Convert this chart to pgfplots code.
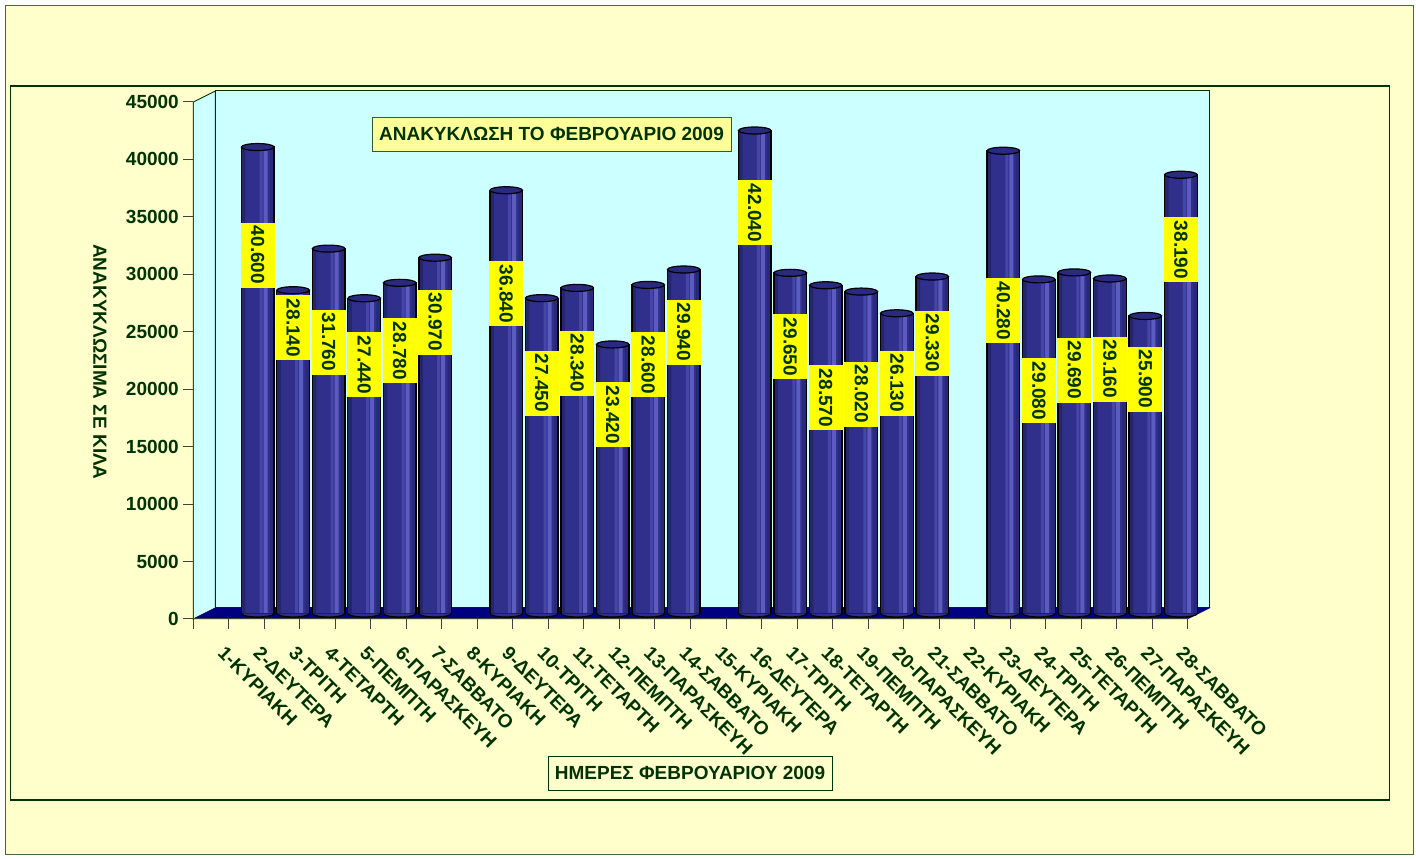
\documentclass[border=0pt]{standalone}
\usepackage{fontspec}
\setmainfont{Liberation Sans}
\usepackage{pgfplots}
\usepackage{pgfplotstable}
\pgfplotsset{compat=1.18}
\definecolor{bgy}{HTML}{FFFFCC}
\definecolor{wallc}{HTML}{CCFFFF}
\definecolor{floorc}{HTML}{000080}
\definecolor{dkgreen}{HTML}{003300}
\definecolor{frameo}{HTML}{3F6A3F}
\definecolor{titley}{HTML}{FFFF99}
\definecolor{laby}{HTML}{FFFF00}
\definecolor{axgray}{HTML}{404040}
\definecolor{barD}{HTML}{25256C}
\definecolor{barD2}{HTML}{29297A}
\definecolor{barM}{HTML}{30308C}
\definecolor{barL}{HTML}{4646A8}
\definecolor{barL2}{HTML}{5C5CC0}
\definecolor{barT}{HTML}{2A2A80}
\pgfdeclareplotmark{cyltop}{\pgfpathellipse{\pgfpointorigin}{\pgfqpoint{16.3pt}{0pt}}{\pgfqpoint{0pt}{3.5pt}}\pgfusepathqfillstroke}
\pgfdeclareplotmark{cylbot}{%
  \pgfpathmoveto{\pgfqpoint{-16.3pt}{0pt}}\pgfpatharc{180}{360}{16.3pt and 3.5pt}\pgfpathclose\pgfusepathqfill
  \pgfpathmoveto{\pgfqpoint{-16.3pt}{0pt}}\pgfpatharc{180}{360}{16.3pt and 3.5pt}\pgfusepathqstroke}
\newcommand\ff{\fontsize{19}{22}\selectfont\bfseries}
\pgfplotstableread{
x b y ly txt
2 0 40600 31200 40.600
3 0 28140 24850 28.140
4 0 31760 23630 31.760
5 0 27440 21630 27.440
6 0 28780 22850 28.780
7 0 30970 25370 30.970
9 0 36840 27810 36.840
10 0 27450 20060 27.450
11 0 28340 21800 28.340
12 0 23420 17280 23.420
13 0 28600 21630 28.600
14 0 29940 24500 29.940
16 0 42040 34860 42.040
17 0 29650 23200 29.650
18 0 28570 18760 28.570
19 0 28020 19100 28.020
20 0 26130 20060 26.130
21 0 29330 23540 29.330
23 0 40280 26330 40.280
24 0 29080 19370 29.080
25 0 29690 21190 29.690
26 0 29160 21280 29.160
27 0 25900 20410 25.900
28 0 38190 31640 38.190
}\data
\begin{document}
\begin{tikzpicture}[x=1pt,y=1pt]
\path[use as bounding box] (0,0) rectangle (1416,859);
\fill[white] (0,0) rectangle (1416,859);
\filldraw[fill=bgy, draw=frameo, line width=1.5pt] (5.5,4.5) rectangle (1413.5,853.5);
\draw[draw=dkgreen, line width=1.5pt] (10.5,59) rectangle (1389.5,773);
% walls and floor
\filldraw[fill=wallc, draw=dkgreen, line width=1pt] (193.4,240) -- (193.4,757) -- (215.4,768) -- (215.4,251) -- cycle;
\filldraw[fill=wallc, draw=dkgreen, line width=1pt] (215.4,251) rectangle (1209.6,768);
\filldraw[fill=floorc, draw=floorc, line width=0.5pt] (193.4,240) -- (215.4,251) -- (1209.6,251) -- (1187.6,240) -- cycle;
% titles
\node[fill=titley, draw=dkgreen!80, line width=0.8pt, minimum width=359pt, minimum height=34pt, inner sep=0pt, font=\ff, text=dkgreen] at (551.5,725) {ΑΝΑΚΥΚΛΩΣΗ ΤΟ ΦΕΒΡΟΥΑΡΙΟ 2009};
\node[fill=bgy, draw=dkgreen, line width=0.8pt, minimum width=284pt, minimum height=34pt, inner sep=0pt, font=\ff, text=dkgreen] at (690,86) {ΗΜΕΡΕΣ ΦΕΒΡΟΥΑΡΙΟΥ 2009};
\node[rotate=-90, font=\ff, text=dkgreen] at (100,497) {ΑΝΑΚΥΚΛΩΣΙΜΑ ΣΕ ΚΙΛΑ};
% bars
\begin{axis}[at={(204.4pt,245.5pt)}, anchor=south west, scale only axis,
  width=994.2pt, height=517pt, xmin=0.5, xmax=28.5, ymin=0, ymax=45000,
  hide axis, clip=false,
  every node near coord/.append style={anchor=center}]
\addplot[only marks, mark=cylbot, mark options={fill=barM, draw=black, line width=1.2pt}] table[x=x,y=b] \data;
\addplot[ybar, bar width=32.6pt, bar shift=0pt, draw=none, fill=barM] table[x=x,y=y] \data;
\addplot[ybar, bar width=4pt, bar shift=-14.3pt, draw=none, fill=barD] table[x=x,y=y] \data;
\addplot[ybar, bar width=3pt, bar shift=3.5pt, draw=none, fill=barL] table[x=x,y=y] \data;
\addplot[ybar, bar width=4pt, bar shift=8pt, draw=none, fill=barL2] table[x=x,y=y] \data;
\addplot[ybar, bar width=4pt, bar shift=14.3pt, draw=none, fill=barD2] table[x=x,y=y] \data;
\addplot[ybar, bar width=32.6pt, bar shift=0pt, draw=black, fill=none, line width=1.2pt] table[x=x,y=y] \data;
\addplot[only marks, mark=cyltop, mark options={fill=barT, draw=black, line width=1.2pt}] table[x=x,y=y] \data;
\addplot[draw=none, mark=none, nodes near coords, point meta=explicit symbolic,
  nodes near coords style={anchor=center, rotate=-90, fill=laby, text=dkgreen, font=\ff, minimum width=65pt, minimum height=34pt, inner sep=0pt}]
  table[x=x,y=ly,meta=txt] \data;
\end{axis}
% front axis
\begin{axis}[at={(193.4pt,240pt)}, anchor=south west, scale only axis,
  width=994.2pt, height=517pt, xmin=0, xmax=28, ymin=0, ymax=45000,
  axis x line*=bottom, axis y line*=left,
  axis line style={draw=axgray, line width=1pt},
  tick style={draw=axgray, line width=1pt},
  tick align=outside, major tick length=10pt,
  ytick={0,5000,...,45000},
  xtick={0,...,28}, xticklabels={},
  extra x ticks={0.5,1.5,...,27.5},
  extra x tick labels={1-ΚΥΡΙΑΚΗ,2-ΔΕΥΤΕΡΑ,3-ΤΡΙΤΗ,4-ΤΕΤΑΡΤΗ,5-ΠΕΜΠΤΗ,6-ΠΑΡΑΣΚΕΥΗ,7-ΣΑΒΒΑΤΟ,8-ΚΥΡΙΑΚΗ,9-ΔΕΥΤΕΡΑ,10-ΤΡΙΤΗ,11-ΤΕΤΑΡΤΗ,12-ΠΕΜΠΤΗ,13-ΠΑΡΑΣΚΕΥΗ,14-ΣΑΒΒΑΤΟ,15-ΚΥΡΙΑΚΗ,16-ΔΕΥΤΕΡΑ,17-ΤΡΙΤΗ,18-ΤΕΤΑΡΤΗ,19-ΠΕΜΠΤΗ,20-ΠΑΡΑΣΚΕΥΗ,21-ΣΑΒΒΑΤΟ,22-ΚΥΡΙΑΚΗ,23-ΔΕΥΤΕΡΑ,24-ΤΡΙΤΗ,25-ΤΕΤΑΡΤΗ,26-ΠΕΜΠΤΗ,27-ΠΑΡΑΣΚΕΥΗ,28-ΣΑΒΒΑΤΟ},
  extra x tick style={major tick length=0pt, xticklabel style={xshift=15pt, yshift=-26pt, rotate=-45, anchor=north west, inner sep=0pt}},
  yticklabel style={anchor=east, inner sep=0pt, xshift=-4.4pt},
  /pgf/number format/assume math mode=true,
  /pgf/number format/set thousands separator={},
  scaled y ticks=false,
  ticklabel style={font=\ff, text=dkgreen},
]
\addplot[draw=none, mark=none, forget plot] coordinates {(0,0)};
\end{axis}
\end{tikzpicture}
\end{document}
